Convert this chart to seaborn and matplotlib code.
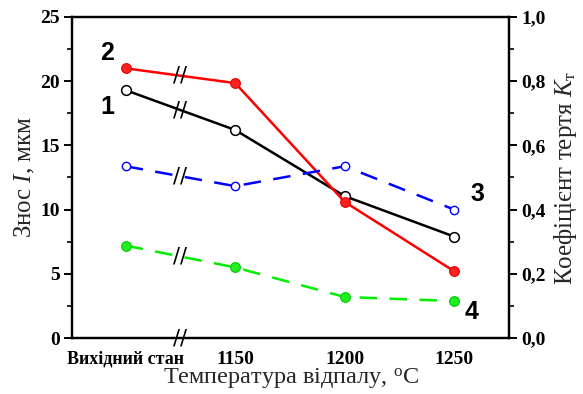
import numpy as np
import pandas as pd
import matplotlib
matplotlib.use('Agg')
import matplotlib.pyplot as plt
import seaborn as sns
from matplotlib.ticker import MultipleLocator, FixedLocator, FuncFormatter

# ── DATA ────────────────────────────────────────────────────────
categories = ['Вихідний стан', '1150', '1200', '1250']
wear_1 = [19.3, 16.2, 11.05, 7.9]      # знос, мкм (крива 1)
wear_2 = [21.0, 19.85, 10.6, 5.2]      # знос, мкм (крива 2)
coef_3 = [0.535, 0.473, 0.535, 0.40]   # коефіцієнт тертя (крива 3)
coef_4 = [0.288, 0.22, 0.128, 0.115]   # коефіцієнт тертя (крива 4)
curve_labels = ['1', '2', '3', '4']

sns.set_theme(style='white')
plt.rcParams['font.family'] = ['Liberation Serif', 'DejaVu Serif']
plt.rcParams['mathtext.fontset'] = 'custom'
plt.rcParams['mathtext.rm'] = 'Liberation Serif'
plt.rcParams['mathtext.it'] = 'Liberation Serif:italic'

pos = np.arange(len(categories))
df = pd.DataFrame({'pos': pos, 'w1': wear_1, 'w2': wear_2,
                   'c3': coef_3, 'c4': coef_4})

fig = plt.figure(figsize=(5.83, 3.94), dpi=100)
ax = fig.add_axes([0.1235, 0.142, 0.7495, 0.815])
ax2 = ax.twinx()

# ── LINES ───────────────────────────────────────────────────────
sns.lineplot(data=df, x='pos', y='w1', ax=ax, color='black', lw=1.8,
             marker='o', markersize=7, markerfacecolor='white',
             markeredgecolor='black', markeredgewidth=1.1, zorder=3)
sns.lineplot(data=df, x='pos', y='w2', ax=ax, color='#ff0000', lw=1.8,
             marker='o', markersize=7, markerfacecolor='#ff2020',
             markeredgecolor='#e00000', markeredgewidth=0.8, zorder=4)
sns.lineplot(data=df, x='pos', y='c3', ax=ax2, color='#0000ff', lw=1.8,
             marker='o', markersize=6, markerfacecolor='white',
             markeredgecolor='#0000ff', markeredgewidth=1.0,
             dashes=False, zorder=3)
sns.lineplot(data=df, x='pos', y='c4', ax=ax2, color='#00ee00', lw=1.8,
             marker='o', markersize=7, markerfacecolor='#22ee22',
             markeredgecolor='#00cc00', markeredgewidth=0.8, zorder=3)
ax2.lines[0].set_dashes([7, 5])
ax2.lines[1].set_dashes([7, 5])

# ── AXES ────────────────────────────────────────────────────────
ax.set_xlim(-0.49, 3.5)
ax.set_ylim(0, 25)
ax2.set_ylim(0, 1)
ax.xaxis.set_major_locator(FixedLocator(pos))
ax.xaxis.set_minor_locator(FixedLocator([1.5, 2.5]))
ax.set_xticklabels(categories)
ax.yaxis.set_major_locator(MultipleLocator(5))
ax.yaxis.set_minor_locator(MultipleLocator(2.5))
ax2.yaxis.set_major_locator(MultipleLocator(0.2))
ax2.yaxis.set_minor_locator(MultipleLocator(0.1))
ax2.yaxis.set_major_formatter(FuncFormatter(lambda v, p: f'{v:.1f}'.replace('.', ',')))

for a in (ax, ax2):
    for s in a.spines.values():
        s.set_linewidth(1.6)
        s.set_color('black')
    a.tick_params(which='major', length=6, width=1.4, direction='out',
                  colors='black', labelsize=14, pad=3)
    a.tick_params(which='minor', length=3.5, width=1.2, direction='out',
                  colors='black')
ax.tick_params(axis='x', which='both', top=False)
ax.tick_params(axis='y', which='both', left=True, right=False)
ax2.tick_params(axis='y', which='both', right=True, left=False)
for lab in ax.get_xticklabels() + ax.get_yticklabels() + ax2.get_yticklabels():
    lab.set_fontweight('bold')
ax.get_xticklabels()[0].set_fontsize(13)

ax.set_xlabel('Температура відпалу, $^{\\rm o}$C', fontsize=17.5, labelpad=-1)
ax.set_ylabel('Знос $\\mathit{I}$, мкм', fontsize=18, labelpad=2)
ax2.set_ylabel('Коефіцієнт тертя $\\mathit{K}_{\\rm т}$', fontsize=18, labelpad=4)

# ── BREAK MARKS "//" ────────────────────────────────────────────
mid = 0.5
brk = dict(ha='center', va='center', fontsize=15, fontfamily='DejaVu Sans',
           color='black', zorder=6)
ax.text(mid, (wear_1[0] + wear_1[1]) / 2, '//', **brk)
ax.text(mid, (wear_2[0] + wear_2[1]) / 2, '//', **brk)
ax2.text(mid, (coef_3[0] + coef_3[1]) / 2, '//', **brk)
ax2.text(mid, (coef_4[0] + coef_4[1]) / 2, '//', **brk)
ax.text(mid, 0, '//', clip_on=False, **brk)

# ── CURVE NUMBERS ───────────────────────────────────────────────
num = dict(fontsize=18, fontweight='bold', fontfamily='Liberation Sans',
           ha='center', va='center', color='black')
ax.text(-0.17, wear_1[0] - 1.3, curve_labels[0], **num)
ax.text(-0.17, wear_2[0] + 1.2, curve_labels[1], **num)
ax2.text(3.21, coef_3[3] + 0.05, curve_labels[2], **num)
ax2.text(3.16, coef_4[3] - 0.035, curve_labels[3], **num)

fig.savefig('out.png', dpi=100)
